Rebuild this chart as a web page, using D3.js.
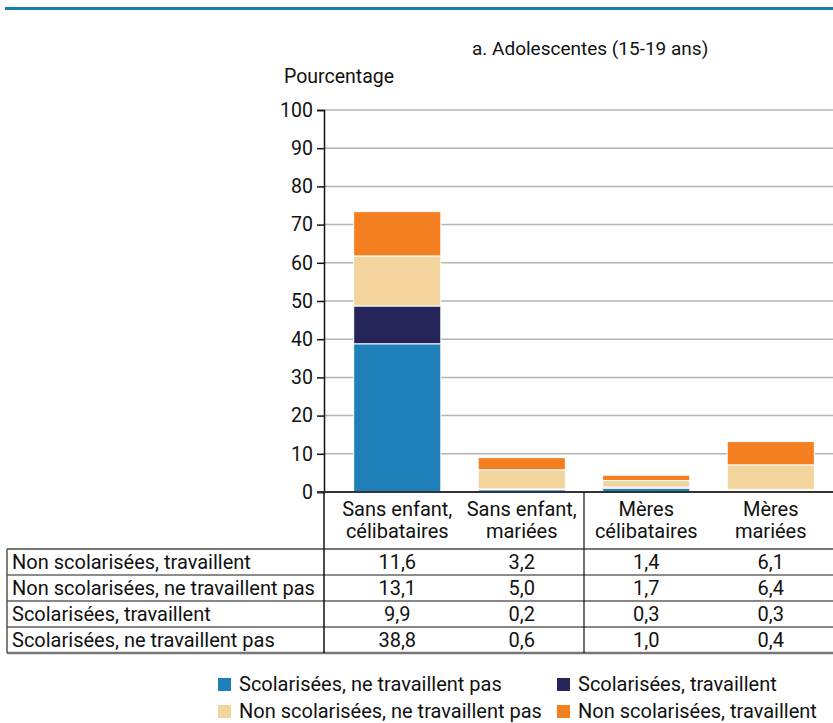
<!DOCTYPE html>
<html>
<head>
<meta charset="utf-8">
<script src="https://cdn.jsdelivr.net/npm/d3@7"></script>
<style>
  body { margin: 0; background: #fff; }
  svg { display: block; font-family: Roboto, "Open Sans", sans-serif; }
</style>
</head>
<body>
<svg id="chart" width="833" height="723"></svg>
<script>
// Categories (two lines each)
var categories = [
    ["Sans enfant,", "célibataires"],
    ["Sans enfant,", "mariées"],
    ["Mères", "célibataires"],
    ["Mères", "mariées"]
];
// Series, bottom of the stack first
var seriesNames = [
    "Scolarisées, ne travaillent pas",
    "Scolarisées, travaillent",
    "Non scolarisées, ne travaillent pas",
    "Non scolarisées, travaillent"
];
var scolNeTravPas = [38.8, 0.6, 1.0, 0.4];
var scolTrav = [9.9, 0.2, 0.3, 0.3];
var nonScolNeTravPas = [13.1, 5.0, 1.7, 6.4];
var nonScolTrav = [11.6, 3.2, 1.4, 6.1];
var seriesColors = ["#1f80b9", "#25255a", "#f2d49c", "#f47f21"];
var yTicks = [0, 10, 20, 30, 40, 50, 60, 70, 80, 90, 100];

// Table rows go top-down
var tableOrder = [3, 2, 1, 0];

var seriesValues = [scolNeTravPas, scolTrav, nonScolNeTravPas, nonScolTrav];

var svg = d3.select("#chart");

// top rule
svg.append("rect").attr("x", 5).attr("y", 7).attr("width", 828).attr("height", 3)
    .attr("fill", "#1580a9");

var x = d3.scaleBand()
    .domain(d3.range(categories.length))
    .range([335, 833])
    .paddingInner(0.3)
    .paddingOuter(0.15);

var y = d3.scaleLinear().domain([0, 100]).range([492, 110]);

// title & axis label
svg.append("text").attr("x", 472).attr("y", 55).attr("font-size", 19).attr("fill", "#111")
    .text("a. Adolescentes (15-19 ans)");
svg.append("text").attr("x", 284).attr("y", 83).attr("font-size", 19.5).attr("fill", "#111")
    .text("Pourcentage");

// gridlines
svg.append("g").selectAll("line")
    .data(yTicks.filter(function(d) { return d > 0; }))
    .enter().append("line")
    .attr("x1", 324).attr("x2", 833)
    .attr("y1", function(d) { return y(d); })
    .attr("y2", function(d) { return y(d); })
    .attr("stroke", "#b3b3b3").attr("stroke-width", 1.5);

// axis
var yAxis = d3.axisLeft(y).tickValues(yTicks).tickSize(7).tickPadding(4);
var gy = svg.append("g").attr("transform", "translate(324,0)").call(yAxis);
gy.select(".domain").attr("stroke", "#111").attr("stroke-width", 1.5);
gy.selectAll(".tick line").attr("stroke", "#111").attr("stroke-width", 1.5);
gy.selectAll(".tick text").attr("font-size", 19.5).attr("font-family", "Roboto, sans-serif")
    .attr("fill", "#111");

// stacked bars
var rows = categories.map(function(c, i) {
    var o = { idx: i };
    seriesValues.forEach(function(v, s) { o["s" + s] = v[i]; });
    return o;
});
var stack = d3.stack().keys(seriesNames.map(function(d, s) { return "s" + s; }));
var stacked = stack(rows);

svg.append("g").selectAll("g")
    .data(stacked)
    .enter().append("g")
    .attr("fill", function(d, s) { return seriesColors[s]; })
    .selectAll("rect")
    .data(function(d) { return d; })
    .enter().append("rect")
    .attr("x", function(d) { return x(d.data.idx); })
    .attr("width", x.bandwidth())
    .attr("y", function(d) { return y(d[1]); })
    .attr("height", function(d) { return y(d[0]) - y(d[1]); })
    .attr("stroke", "#fff").attr("stroke-width", 1);

// zero line
svg.append("line").attr("x1", 317).attr("x2", 833).attr("y1", 492).attr("y2", 492)
    .attr("stroke", "#333").attr("stroke-width", 2);

// table
var tableTop = 549, rowH = 26, fs = 20;
var center = function(i) { return x(i) + x.bandwidth() / 2; };

var head = svg.append("g");
categories.forEach(function(c, i) {
    head.append("text").attr("x", center(i)).attr("y", 516)
        .attr("text-anchor", "middle").attr("font-size", fs).attr("fill", "#111").text(c[0]);
    head.append("text").attr("x", center(i)).attr("y", 538)
        .attr("text-anchor", "middle").attr("font-size", fs).attr("fill", "#111").text(c[1]);
});

var hLines = [
    { y: tableTop, c: "#777", w: 2 },
    { y: tableTop + rowH, c: "#666", w: 1.5 },
    { y: tableTop + 2 * rowH, c: "#111", w: 1.2 },
    { y: tableTop + 3 * rowH, c: "#111", w: 1.2 },
    { y: tableTop + 4 * rowH, c: "#777", w: 2.5 }
];
svg.append("g").selectAll("line").data(hLines).enter().append("line")
    .attr("x1", 7).attr("x2", 833)
    .attr("y1", function(d) { return d.y; }).attr("y2", function(d) { return d.y; })
    .attr("stroke", function(d) { return d.c; }).attr("stroke-width", function(d) { return d.w; });

var divX = x(2) - x.step() * x.paddingInner() / 2;
svg.append("line").attr("x1", 7).attr("x2", 7).attr("y1", tableTop).attr("y2", tableTop + 4 * rowH)
    .attr("stroke", "#555").attr("stroke-width", 1.5);
svg.append("line").attr("x1", 324).attr("x2", 324).attr("y1", 492).attr("y2", tableTop + 4 * rowH)
    .attr("stroke", "#111").attr("stroke-width", 1.5);
svg.append("line").attr("x1", divX).attr("x2", divX)
    .attr("y1", 492).attr("y2", tableTop + 4 * rowH)
    .attr("stroke", "#111").attr("stroke-width", 1.2);

var fmt = function(v) { return d3.format(".1f")(v).replace(".", ","); };
tableOrder.forEach(function(s, r) {
    var ty = tableTop + r * rowH + 20;
    svg.append("text").attr("x", 12).attr("y", ty).attr("font-size", fs).attr("fill", "#111")
        .text(seriesNames[s]);
    seriesValues[s].forEach(function(v, i) {
        svg.append("text").attr("x", center(i)).attr("y", ty).attr("text-anchor", "middle")
            .attr("font-size", fs).attr("fill", "#111").text(fmt(v));
    });
});

// legend
var legendPos = [[218, 685], [557, 685], [218, 712], [557, 712]];
var legend = svg.append("g").selectAll("g").data(seriesNames).enter().append("g")
    .attr("transform", function(d, i) { return "translate(" + legendPos[i][0] + "," + legendPos[i][1] + ")"; });
legend.append("rect").attr("x", 0).attr("y", -7).attr("width", 13).attr("height", 13)
    .attr("fill", function(d, i) { return seriesColors[i]; });
legend.append("text").attr("x", 21).attr("y", 6).attr("font-size", fs).attr("fill", "#111")
    .text(function(d) { return d; });
</script>
</body>
</html>
